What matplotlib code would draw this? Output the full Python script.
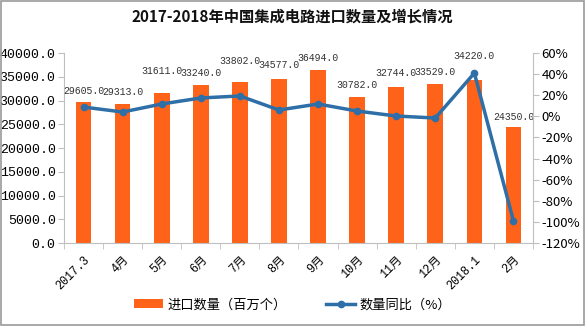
import matplotlib
matplotlib.use('Agg')
import matplotlib.pyplot as plt
import numpy as np

plt.rcParams['font.family'] = ['Noto Sans CJK SC', 'DejaVu Sans']
num_font = ['Liberation Mono', 'Noto Sans CJK SC']

months = ['2017.3', '4月', '5月', '6月', '7月', '8月', '9月', '10月', '11月', '12月', '2018.1', '2月']
imports = [29605.0, 29313.0, 31611.0, 33240.0, 33802.0, 34577.0, 36494.0, 30782.0, 32744.0, 33529.0, 34220.0, 24350.0]
yoy = [8.8, 4.1, 11.7, 17.4, 19.3, 6.0, 11.7, 5.0, 0.3, -1.6, 41.0, -99.0]

# label offsets above bar top, in pixels
lab_off = [11, 12, 22, 12, 21, 14, 12, 12, 14, 12, 24, 10]

bar_c = '#FF6319'
line_c = '#2E6FA7'
spine_c = '#BFBFBF'

fig = plt.figure(figsize=(5.85, 3.26), dpi=100)
ax = fig.add_axes([0.1094, 0.2546, 0.8017, 0.5828])
x = np.arange(len(months))

ax.bar(x, imports, width=0.4, color=bar_c, zorder=2, label='进口数量（百万个）')
for i, v in enumerate(imports):
    ax.annotate('%.1f' % v, (x[i], v), xytext=(0, lab_off[i]), textcoords='offset pixels',
                ha='center', va='center', fontsize=7.1, color='#333333', zorder=5,
                family=num_font)

ax.set_xlim(-0.5, len(months) - 0.5)
ax.set_ylim(0, 40000)
ax.set_yticks(np.arange(0, 40001, 5000))
ax.set_yticklabels(['%.1f' % t for t in np.arange(0, 40001, 5000)], family=num_font)
ax.set_xticks(x)
ax.set_xticklabels(months, rotation=45, ha='right', rotation_mode='anchor', family=num_font)
ax.set_xticks(np.arange(-0.5, len(months), 1), minor=True)
ax.tick_params(axis='x', which='major', length=0, pad=8, labelsize=8.5)
ax.tick_params(axis='x', which='minor', length=4, color=spine_c, direction='out')
ax.tick_params(axis='y', length=4, color=spine_c, labelsize=9.5, pad=2)

ax2 = ax.twinx()
ax2.plot(x, yoy, color=line_c, lw=2.5, marker='o', ms=4.5, zorder=4, label='数量同比（%）')
ax2.set_ylim(-120, 60)
ax2.set_yticks(np.arange(-120, 61, 20))
ax2.set_yticklabels(['%d%%' % t for t in np.arange(-120, 61, 20)])
ax2.tick_params(axis='y', length=4, color=spine_c, labelsize=9.5, pad=2)

for a in (ax, ax2):
    for s in a.spines.values():
        s.set_visible(False)
ax.spines['left'].set_visible(True)
ax.spines['left'].set_color(spine_c)
ax.spines['bottom'].set_visible(True)
ax.spines['bottom'].set_color(spine_c)
ax2.spines['right'].set_visible(True)
ax2.spines['right'].set_color(spine_c)

fig.text(0.5, 0.948, '2017-2018年中国集成电路进口数量及增长情况', ha='center', va='center',
         fontsize=11, fontweight='bold', color='#111111')

h1, l1 = ax.get_legend_handles_labels()
h2, l2 = ax2.get_legend_handles_labels()
fig.legend(h1 + h2, l1 + l2, loc='center', bbox_to_anchor=(0.5, 0.065), ncol=2, frameon=False,
           fontsize=9.5, handlelength=2.2, columnspacing=3, handleheight=0.6, handletextpad=0.3)

fig.patches.append(plt.Rectangle((0.001, 0.002), 0.998, 0.996, transform=fig.transFigure,
                                 fill=False, edgecolor='#999999', lw=1.2))

fig.savefig('out.png', dpi=100)
